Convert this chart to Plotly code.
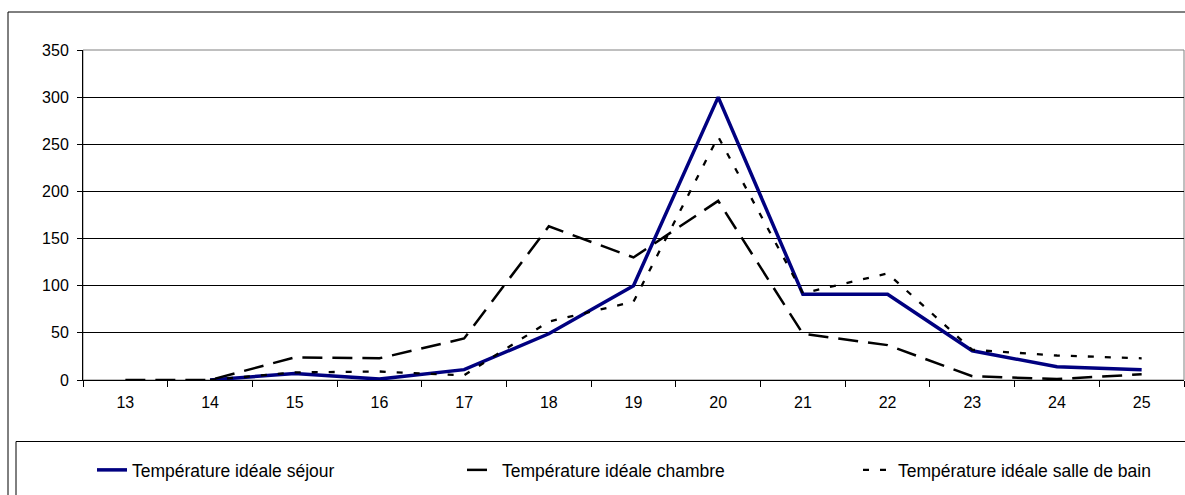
import plotly.graph_objects as go

categories = ["13", "14", "15", "16", "17", "18", "19", "20", "21", "22", "23", "24", "25"]
sejour = [None, 0, 7, 1, 11, 49, 100, 300, 91, 91, 31, 14, 11]
chambre = [0, 0, 24, 23, 44, 163, 130, 190, 49, 37, 4, 1, 6]
bain = [None, 0, 8, 9, 5, 62, 83, 258, 92, 113, 32, 26, 23]
y_ticks = [0, 50, 100, 150, 200, 250, 300, 350]
names = ["Température idéale séjour", "Température idéale chambre", "Température idéale salle de bain"]

W, H = 1185, 495
ML, MR, MT, MB = 83, 1, 50, 115
PW, PH = W - ML - MR, H - MT - MB


def px(x):
    return (x - ML) / PW


def py(y):
    return (H - MB - y) / PH


FONT = "Liberation Sans, Arial, sans-serif"

fig = go.Figure()
fig.add_trace(go.Scatter(x=categories, y=sejour, mode="lines", name=names[0], legend="legend",
                         line=dict(color="#000080", width=3.5), connectgaps=False))
fig.add_trace(go.Scatter(x=categories, y=chambre, mode="lines", name=names[1], legend="legend2",
                         line=dict(color="#000000", width=2.5, dash="20px,10px")))
fig.add_trace(go.Scatter(x=categories, y=bain, mode="lines", name=names[2], legend="legend3",
                         line=dict(color="#000000", width=2.3, dash="6px,11px")))

shapes = [
    dict(type="rect", xref="paper", yref="paper", x0=0, x1=1, y0=0, y1=1,
         line=dict(color="#808080", width=1), layer="between"),
    dict(type="rect", xref="paper", yref="paper", x0=px(8), x1=px(1195), y0=py(505), y1=py(12),
         line=dict(color="#000000", width=1), layer="above"),
    dict(type="rect", xref="paper", yref="paper", x0=px(16), x1=px(1195), y0=py(505), y1=py(441.5),
         line=dict(color="#000000", width=1), layer="above"),
]


def leg(xpix):
    return dict(orientation="h", x=px(xpix), xanchor="left", y=py(470), yanchor="middle",
                font=dict(family=FONT, size=17.5, color="#000000"),
                bgcolor="rgba(0,0,0,0)", borderwidth=0)


fig.update_layout(
    width=W, height=H,
    margin=dict(l=ML, r=MR, t=MT, b=MB, pad=0, autoexpand=False),
    paper_bgcolor="white", plot_bgcolor="white",
    font=dict(family=FONT, color="#000000", size=16),
    showlegend=True,
    legend=leg(92), legend2=leg(462), legend3=leg(858),
    shapes=shapes,
)

fig.update_xaxes(type="category", categoryorder="array", categoryarray=categories,
                 range=[-0.5, len(categories) - 0.5], tickson="boundaries",
                 ticks="outside", ticklen=6, tickcolor="#000000", tickwidth=1,
                 showline=True, linecolor="#000000", linewidth=1,
                 showgrid=False, zeroline=False, ticklabelstandoff=8,
                 tickfont=dict(family=FONT, size=16, color="#000000"))
fig.update_yaxes(range=[0, 350], tickmode="array", tickvals=y_ticks,
                 ticks="outside", ticklen=5, tickcolor="#000000", tickwidth=1,
                 showline=True, linecolor="#000000", linewidth=1,
                 showgrid=True, gridcolor="#000000", gridwidth=1, zeroline=False,
                 ticklabelstandoff=5,
                 tickfont=dict(family=FONT, size=16, color="#000000"))

fig.write_html("out.html", config={"displayModeBar": False},
               post_script="document.body.style.margin='0';document.body.style.overflow='hidden';")
